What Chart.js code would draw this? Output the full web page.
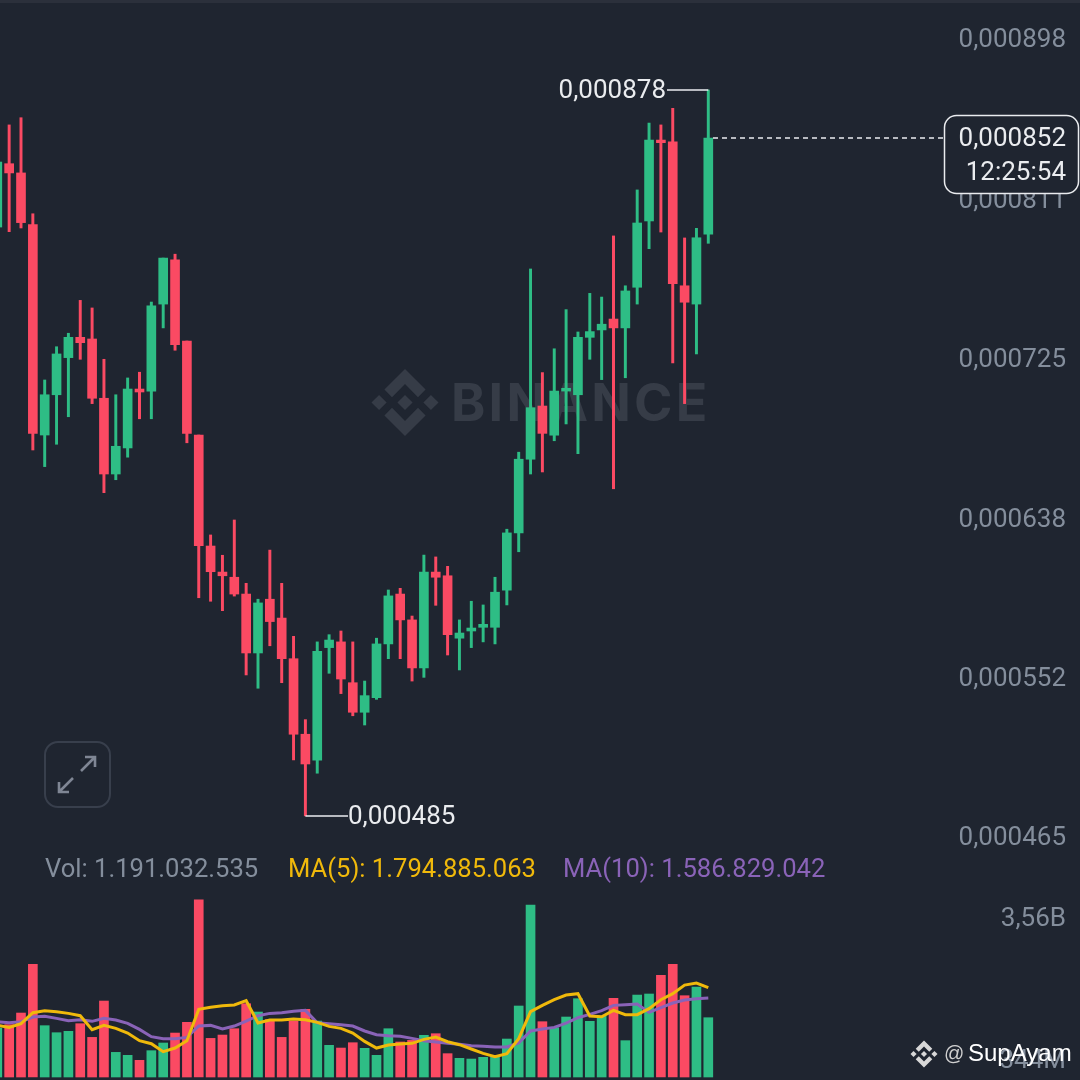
<!DOCTYPE html>
<html>
<head>
<meta charset="utf-8">
<title>Chart</title>
<script src="https://cdn.jsdelivr.net/npm/chart.js@4/dist/chart.umd.min.js"></script>
<style>
  html, body { margin: 0; padding: 0; background: #1f2530; }
  #chart { display: block; }
</style>
</head>
<body>
<canvas id="chart" width="1080" height="1080"></canvas>
<script>
// prices are in millionths (852.0 = 0,000852), volumes in millions
const opens = [803.8, 838.1, 833.1, 805.1, 691.2, 713.0, 733.1, 744.1, 743.2, 711.1, 670.1, 684.2, 716.1, 715.0, 762.1, 786.0, 742.1, 691.2, 631.1, 617.0, 614.2, 605.1, 573.2, 602.3, 592.1, 570.1, 529.2, 515.1, 576.1, 579.2, 557.1, 541.1, 549.0, 578.1, 605.1, 591.1, 565.1, 617.0, 615.0, 581.2, 585.1, 587.1, 587.1, 607.2, 638.2, 678.1, 706.9, 691.1, 715.0, 713.0, 744.1, 748.1, 754.0, 749.2, 771.2, 807.1, 850.9, 850.0, 772.0, 762.1, 800.0];
const highs = [839.0, 859.1, 863.0, 811.0, 721.0, 739.0, 746.3, 764.1, 760.0, 732.2, 713.0, 722.1, 725.2, 763.2, 787.0, 789.1, 742.1, 691.2, 637.1, 626.1, 645.2, 610.9, 602.3, 628.9, 610.9, 582.2, 537.1, 579.2, 583.1, 585.1, 579.2, 558.0, 581.2, 607.3, 608.2, 593.2, 626.2, 625.2, 620.1, 591.1, 601.2, 599.2, 614.2, 640.2, 681.9, 781.1, 725.0, 737.9, 759.1, 747.0, 767.9, 765.9, 799.0, 772.0, 823.9, 860.1, 859.1, 868.1, 797.9, 803.1, 878.0];
const lows = [803.8, 801.3, 803.3, 683.1, 674.1, 686.2, 701.1, 732.2, 708.2, 660.0, 667.0, 679.2, 700.0, 700.0, 749.2, 737.1, 687.0, 603.1, 601.2, 596.1, 604.0, 561.3, 554.1, 577.1, 557.1, 515.3, 485.0, 508.1, 562.2, 551.2, 539.2, 534.2, 548.1, 570.1, 570.1, 558.0, 560.0, 599.0, 572.1, 564.0, 576.1, 579.2, 578.1, 599.2, 628.0, 670.1, 671.2, 688.1, 697.2, 681.1, 732.2, 721.2, 662.1, 722.2, 762.1, 792.1, 801.1, 730.2, 708.2, 735.1, 795.0];
const closes = [839.0, 833.1, 806.2, 692.1, 713.0, 735.1, 744.1, 741.2, 711.1, 670.1, 685.1, 716.1, 714.5, 761.2, 787.0, 740.1, 692.1, 631.3, 617.2, 615.0, 605.1, 573.2, 600.3, 590.2, 570.1, 529.2, 513.1, 574.1, 580.2, 559.1, 541.1, 550.1, 578.1, 604.1, 591.1, 565.1, 617.0, 614.2, 583.1, 584.0, 586.7, 588.7, 606.1, 638.2, 678.1, 706.0, 692.1, 715.0, 716.5, 744.1, 747.2, 751.2, 749.2, 769.2, 806.0, 850.9, 849.5, 773.1, 763.1, 798.0, 852.0];
const volumes = [984, 1051, 1285, 2262, 1031, 890, 917, 1071, 796, 1526, 495, 435, 335, 529, 683, 883, 1098, 3560, 776, 843, 970, 1472, 1305, 1151, 796, 1124, 1359, 1124, 636, 582, 689, 576, 435, 970, 703, 736, 837, 870, 469, 375, 361, 395, 402, 763, 1426, 3454, 1111, 991, 1205, 1573, 1118, 1218, 1580, 730, 1646, 1667, 2041, 2262, 1633, 1807, 1191];
const ma5 = [1037, 997, 1071, 1292, 1332, 1312, 1278, 1232, 950, 1037, 977, 883, 730, 669, 509, 582, 730, 1359, 1399, 1432, 1446, 1533, 1084, 1145, 1145, 1165, 1151, 1098, 1017, 977, 883, 716, 582, 643, 663, 676, 756, 803, 709, 649, 562, 475, 408, 469, 770, 1312, 1439, 1553, 1646, 1673, 1225, 1211, 1339, 1252, 1252, 1372, 1553, 1673, 1847, 1887, 1795];
const ma10 = [1111, 1091, 1111, 1205, 1218, 1178, 1131, 1151, 1118, 1178, 1145, 1078, 957, 810, 770, 770, 796, 1024, 1037, 964, 1024, 1124, 1232, 1278, 1292, 1319, 1339, 1091, 1071, 1051, 1024, 924, 850, 830, 817, 776, 730, 703, 676, 656, 629, 616, 602, 602, 683, 924, 964, 997, 1084, 1191, 1258, 1332, 1439, 1452, 1466, 1298, 1392, 1486, 1546, 1573, 1587];

const priceTicks = [898, 811, 725, 638, 552];
const priceTickLabels = ['0,000898', '0,000811', '0,000725', '0,000638', '0,000552'];
const lowTick = [465];
const lowTickLabel = ['0,000465'];
const volTopTick = [3560];
const volTopLabel = ['3,56B'];
const volBottomTick = [344];
const volBottomLabel = ['344M'];

const GREEN = '#2ebd85';
const RED = '#fb4a63';
const GREY = '#848e9c';
const YELLOW = '#f0b90b';
const PURPLE = '#8a63b8';
const BG = '#1f2530';
const FONT = 'Roboto, sans-serif';

const PRICE_MIN = 342, PRICE_MAX = 926.73;
const VOL_MIN = -60, VOL_MAX = 21630;

const indexes = opens.map((_, i) => i);
const candleColors = closes.map((c, i) => (c >= opens[i] ? GREEN : RED));
const lastIdx = closes.length - 1;

function labelAxis(values, labels, min, max, offset) {
    return {
        position: 'right',
        min: min,
        max: max,
        grid: { display: false },
        border: { display: false },
        afterBuildTicks: (axis) => { axis.ticks = values.map(v => ({ value: v })); },
        // labels sit over the plot, the axis itself takes no room
        afterFit: (axis) => {
            axis.width = 0;
            axis.paddingTop = 0;
            axis.paddingBottom = 0;
        },
        ticks: {
            mirror: true,
            autoSkip: false,
            padding: 0,
            crossAlign: 'near',
            labelOffset: offset,
            color: GREY,
            font: { family: FONT, size: 26 },
            callback: (v, i) => labels[i]
        }
    };
}

function logo(ctx, cx, cy, r, color) {
    const shape = (pts) => {
        ctx.beginPath();
        pts.forEach((p, i) => {
            const x = cx + p[0] * r, y = cy + p[1] * r;
            if (i === 0) ctx.moveTo(x, y); else ctx.lineTo(x, y);
        });
        ctx.closePath();
        ctx.fill();
    };
    const diamond = (dx) => shape([[dx - 0.226, 0], [dx, -0.226], [dx + 0.226, 0], [dx, 0.226]]);
    ctx.fillStyle = color;
    diamond(0);
    diamond(-0.774);
    diamond(0.774);
    shape([[-0.388, -0.16], [0, -0.552], [0.388, -0.16], [0.614, -0.386], [0, -1], [-0.614, -0.386]]);
    shape([[-0.388, 0.16], [0, 0.552], [0.388, 0.16], [0.614, 0.386], [0, 1], [-0.614, 0.386]]);
}

const watermark = {
    id: 'watermark',
    beforeDatasetsDraw(chart) {
        const ctx = chart.ctx;
        ctx.save();
        ctx.fillStyle = '#2b303b';
        ctx.fillRect(0, 0, 1080, 3);
        logo(ctx, 405, 402.5, 33.5, '#363c47');
        ctx.fillStyle = '#363c47';
        ctx.font = '700 52px Inter, sans-serif';
        ctx.textAlign = 'left';
        ctx.textBaseline = 'alphabetic';
        ctx.letterSpacing = '3.2px';
        ctx.fillText('BINANCE', 451, 421);
        ctx.restore();
    }
};

const overlay = {
    id: 'overlay',
    afterDraw(chart) {
        const ctx = chart.ctx;
        const x = chart.scales.x, y = chart.scales.y;
        const lastX = x.getPixelForValue(lastIdx);
        ctx.save();
        ctx.textBaseline = 'middle';
        ctx.font = '26px ' + FONT;

        // high / low markers
        const hi = Math.max(...highs), lo = Math.min(...lows);
        const hiY = y.getPixelForValue(hi), loY = y.getPixelForValue(lo);
        const loX = x.getPixelForValue(lows.indexOf(lo));
        ctx.strokeStyle = '#eaecef';
        ctx.lineWidth = 1.5;
        ctx.beginPath();
        ctx.moveTo(667, hiY); ctx.lineTo(lastX, hiY);
        ctx.moveTo(loX, loY); ctx.lineTo(348, loY);
        ctx.stroke();
        ctx.fillStyle = '#eaecef';
        ctx.textAlign = 'right';
        ctx.fillText('0,000878', 666, hiY + 1);
        ctx.textAlign = 'left';
        ctx.fillText('0,000485', 348, loY + 2);

        // last price line and tag
        const nowY = y.getPixelForValue(closes[lastIdx]);
        ctx.setLineDash([5, 4]);
        ctx.beginPath();
        ctx.moveTo(713, nowY); ctx.lineTo(944, nowY);
        ctx.stroke();
        ctx.setLineDash([]);
        ctx.beginPath();
        ctx.roundRect(944.5, 115.5, 134, 78, 12);
        ctx.fillStyle = BG;
        ctx.fill();
        ctx.stroke();
        ctx.fillStyle = '#eaecef';
        ctx.textAlign = 'right';
        ctx.fillText('0,000852', 1066, 139.5);
        ctx.fillText('12:25:54', 1066, 173);

        // volume legend
        ctx.font = '25.6px ' + FONT;
        ctx.textAlign = 'left';
        ctx.fillStyle = GREY;
        ctx.fillText('Vol: 1.191.032.535', 45, 870.5);
        ctx.fillStyle = YELLOW;
        ctx.fillText('MA(5): 1.794.885.063', 288, 870.5);
        ctx.fillStyle = PURPLE;
        ctx.fillText('MA(10): 1.586.829.042', 563, 870.5);

        // expand button
        ctx.strokeStyle = '#383f4c';
        ctx.lineWidth = 2;
        ctx.beginPath();
        ctx.roundRect(45, 742, 65, 65, 13);
        ctx.stroke();
        ctx.strokeStyle = '#7f8694';
        ctx.lineWidth = 2.6;
        ctx.beginPath();
        ctx.moveTo(81, 771); ctx.lineTo(95, 757);
        ctx.moveTo(85, 757); ctx.lineTo(95, 757); ctx.lineTo(95, 767);
        ctx.moveTo(73, 778); ctx.lineTo(59, 792);
        ctx.moveTo(59, 782); ctx.lineTo(59, 792); ctx.lineTo(69, 792);
        ctx.stroke();

        // account tag
        logo(ctx, 924, 1054, 13.5, '#d8d8d8');
        ctx.fillStyle = '#d0d0d0';
        ctx.font = '20px "Liberation Sans", sans-serif';
        ctx.textAlign = 'left';
        ctx.fillText('@', 944, 1054);
        ctx.fillStyle = '#ffffff';
        ctx.font = '24px "Liberation Sans", sans-serif';
        ctx.fillText('SupAyam', 968, 1054);
        ctx.restore();
    }
};

new Chart(document.getElementById('chart'), {
    type: 'bar',
    data: {
        datasets: [
            {
                type: 'line',
                data: indexes.map(i => ({ x: i, y: ma10[i] })),
                yAxisID: 'yVol',
                borderColor: PURPLE,
                borderWidth: 3,
                pointRadius: 0,
                tension: 0,
                order: 1
            },
            {
                type: 'line',
                data: indexes.map(i => ({ x: i, y: ma5[i] })),
                yAxisID: 'yVol',
                borderColor: YELLOW,
                borderWidth: 3,
                pointRadius: 0,
                tension: 0,
                order: 0
            },
            {
                data: indexes.map(i => ({ x: i, y: [opens[i], closes[i]] })),
                yAxisID: 'y',
                backgroundColor: candleColors,
                barThickness: 9,
                grouped: false,
                order: 2
            },
            {
                data: indexes.map(i => ({ x: i, y: [lows[i], highs[i]] })),
                yAxisID: 'y',
                backgroundColor: candleColors,
                barThickness: 2.3,
                grouped: false,
                order: 3
            },
            {
                data: indexes.map(i => ({ x: i, y: volumes[i] })),
                yAxisID: 'yVol',
                backgroundColor: candleColors,
                barThickness: 9,
                grouped: false,
                order: 4
            }
        ]
    },
    options: {
        responsive: false,
        animation: false,
        layout: { padding: { right: 14 } },
        plugins: {
            legend: { display: false },
            tooltip: { enabled: false }
        },
        scales: {
            x: {
                type: 'linear',
                display: false,
                offset: false,
                min: 0.228,
                max: 0.228 + 1066 / 11.85
            },
            y: labelAxis(priceTicks, priceTickLabels, PRICE_MIN, PRICE_MAX, -12.5),
            yLow: labelAxis(lowTick, lowTickLabel, PRICE_MIN, PRICE_MAX, -14),
            yVol: labelAxis(volBottomTick, volBottomLabel, VOL_MIN, VOL_MAX, 2),
            yVolTop: labelAxis(volTopTick, volTopLabel, VOL_MIN, VOL_MAX, 20)
        }
    },
    plugins: [watermark, overlay]
});
</script>
</body>
</html>
